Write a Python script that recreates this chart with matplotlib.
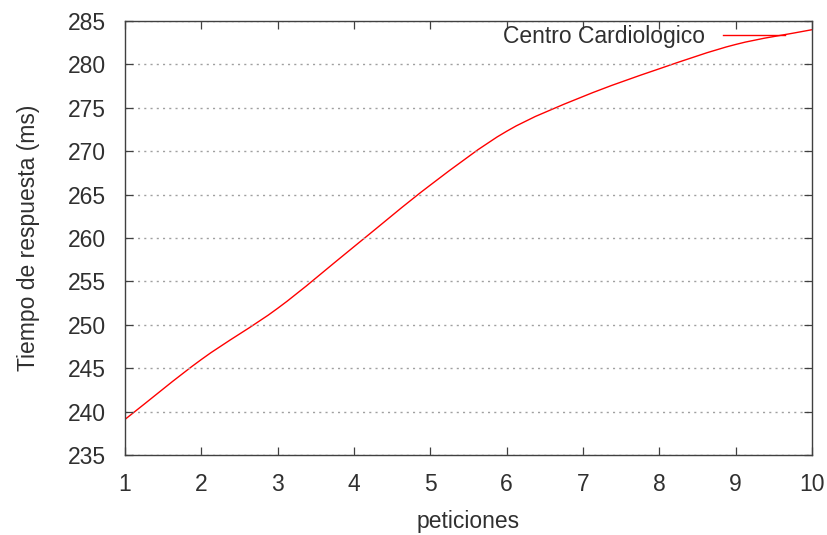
import matplotlib
matplotlib.use("Agg")
import matplotlib.pyplot as plt
from matplotlib.path import Path
from matplotlib.patches import PathPatch
from matplotlib.lines import Line2D
import numpy as np

# tiempo medio de respuesta por numero de peticiones
peticiones = [1, 2, 3, 4, 5, 6, 7, 8, 9, 10]
tiempo_ms = [239.1, 246.0, 251.9, 259.0, 266.1, 272.3, 276.3, 279.5, 282.3, 284.0]
serie = "Centro Cardiologico"

plt.rcParams.update({'font.family': ['Liberation Sans', 'DejaVu Sans'], 'font.size': 16.5})


def curva_suave(x, y):
    # curva Bezier por los puntos (tangentes tipo Catmull-Rom)
    x = np.asarray(x, float)
    y = np.asarray(y, float)
    n = len(x)
    dx = np.gradient(x)
    dy = np.gradient(y)
    verts = [(x[0], y[0])]
    codes = [Path.MOVETO]
    for i in range(n - 1):
        h = (x[i + 1] - x[i]) / 3.0
        verts.append((x[i] + h, y[i] + h * dy[i] / dx[i]))
        verts.append((x[i + 1] - h, y[i + 1] - h * dy[i + 1] / dx[i + 1]))
        verts.append((x[i + 1], y[i + 1]))
        codes += [Path.CURVE4] * 3
    return Path(verts, codes)


fig = plt.figure(figsize=(8.27, 5.35), dpi=100)
ax = fig.add_axes([0.1511, 0.1495, 0.8308, 0.8112])

ax.add_patch(PathPatch(curva_suave(peticiones, tiempo_ms), facecolor='none',
                       edgecolor='#ff0000', lw=1.0))

ax.set_xlim(1, 10)
ax.set_ylim(235, 285)
ax.set_xticks(np.arange(1, 11, 1))
ax.set_yticks(np.arange(235, 286, 5))
ax.yaxis.grid(True, linestyle=(0, (1.5, 3.0)), color='#a0a0a0', lw=1.0)

for s in ax.spines.values():
    s.set_color('#404040')
    s.set_linewidth(1.0)
ax.tick_params(direction='in', length=6, width=0.9, color='#404040',
               top=True, right=True, labelcolor='#303030')
ax.tick_params(axis='x', pad=13)
ax.tick_params(axis='y', pad=14)

ax.set_xlabel("peticiones", color='#303030', labelpad=10)
ax.set_ylabel("Tiempo de respuesta (ms)", color='#303030', labelpad=20)

handle = Line2D([], [], color='#ff0000', lw=1.0)
ax.legend([handle], [serie], loc='upper right', bbox_to_anchor=(0.961, 0.99),
          frameon=False, markerfirst=False, handlelength=2.7, handletextpad=0.8,
          borderaxespad=0, borderpad=0, labelcolor='#303030')

fig.savefig("out.png", dpi=100)
